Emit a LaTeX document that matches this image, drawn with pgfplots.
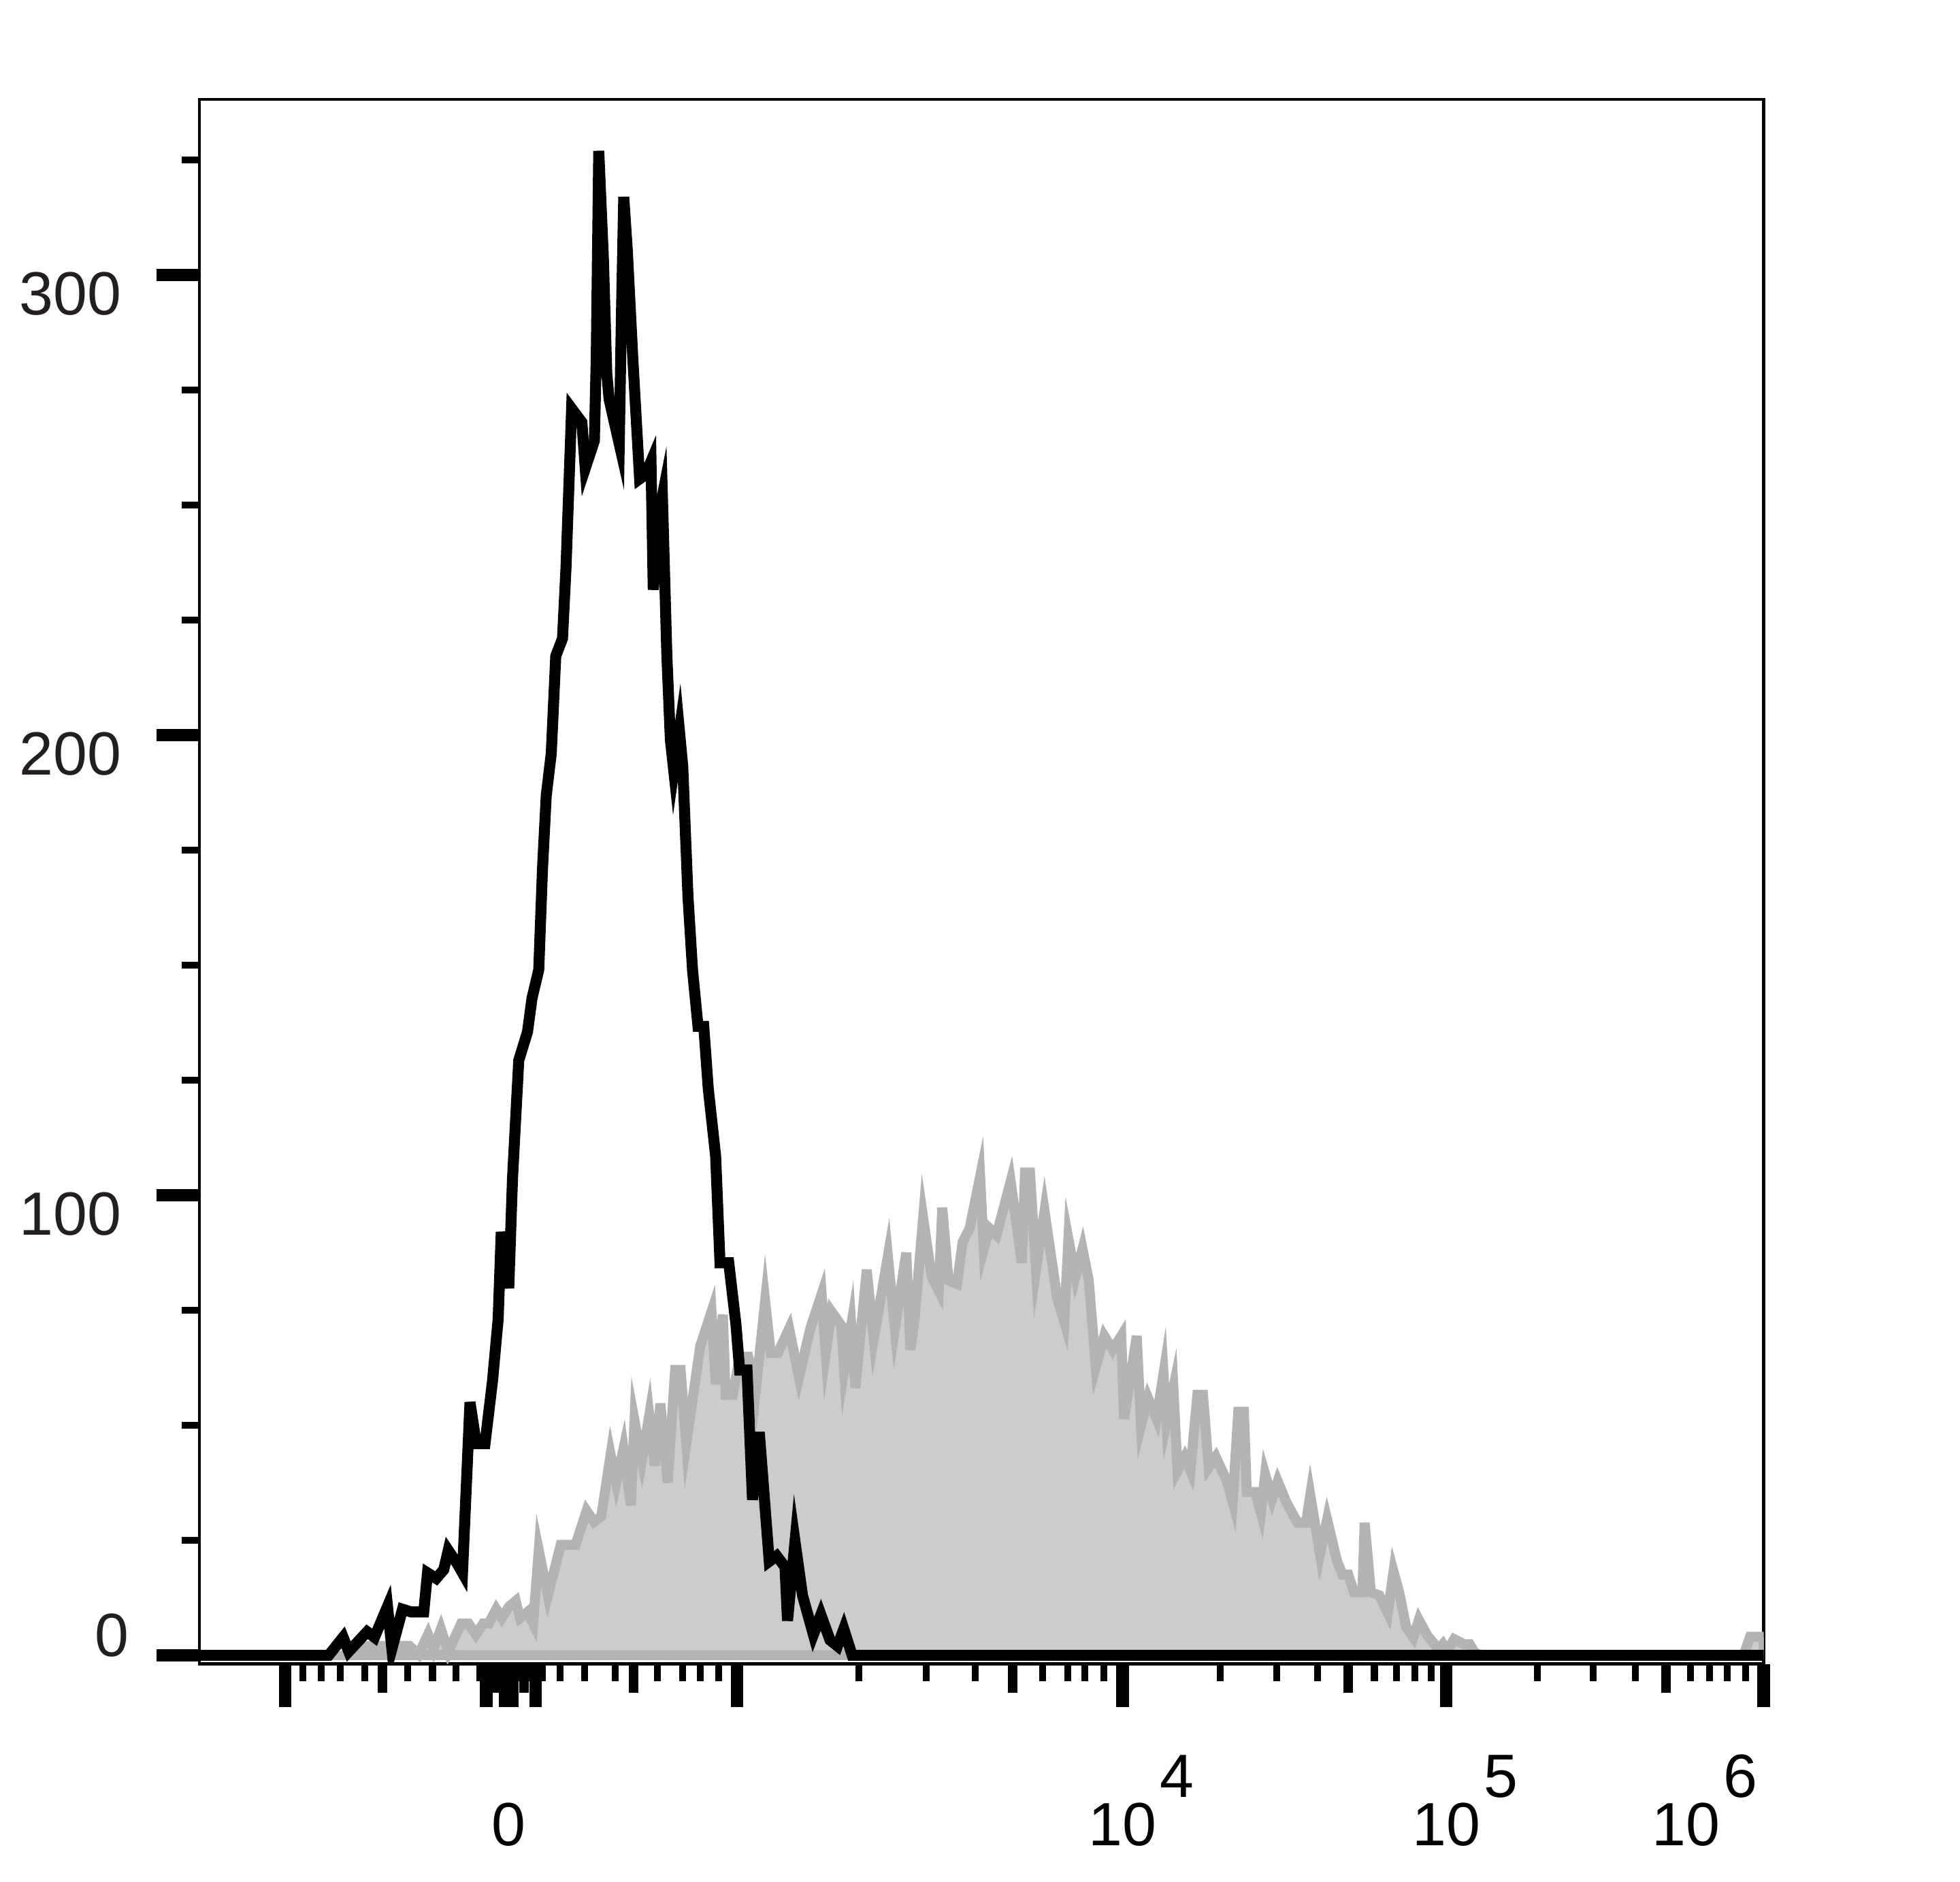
\documentclass[border=0pt]{standalone}
\usepackage{fontspec}
\setmainfont{Liberation Sans}
\usepackage{pgfplots}
\pgfplotsset{compat=1.18}
\definecolor{labelgray}{HTML}{231F20}
\definecolor{histfill}{HTML}{CCCCCC}
\definecolor{histline}{HTML}{B3B3B3}

\begin{document}
\begin{tikzpicture}
\begin{axis}[
  scale only axis,
  width=12.515cm, height=12.515cm,
  xmin=159.5, xmax=1411,
  ymin=-1.9, ymax=338.2,
  axis line style={line width=0.024cm},
  tick align=outside, tick pos=left,
  major tick length=0.345cm, minor tick length=0.14cm,
  major tick style={line width=0.1cm, black},
  minor tick style={line width=0.055cm, black},
  tick label style={font=\fontsize{13.9}{16}\selectfont},
  % logicle-like display scale, ticks at their channel positions
  xtick={228,389,404,407,410,428.5,589.5,898,1157,1411},
  xticklabels={,,,0,,,,
    {10\rlap{\hspace{0.03cm}\raisebox{0.39cm}{4}}},
    {10\rlap{\hspace{0.03cm}\raisebox{0.39cm}{5}}},
    {\llap{10\hspace{0.03cm}\raisebox{0.39cm}{6}\hspace{0.05cm}}}},
  xticklabel style={anchor=base, inner sep=0pt, yshift=-1.11cm},
  extra x ticks={306,398,419,507,810,1078.5,1333},
  extra x tick labels={},
  extra x tick style={major tick length=0.23cm, major tick style={line width=0.076cm}},
  minor xtick={242.5,257,272,292,326,346,365,384,386,...,434,448,467.5,492,526,546,560,575,687,741,780,834,854,868,883,976,1021.6,1054,1099.5,1117,1132,1145,1230,1274.5,1308.5,1352.6,1367.5,1382,1396.6},
  ytick={100,200,300},
  yticklabels={100,200,300},
  yticklabel style={anchor=north east, inner sep=0pt, text=labelgray, xshift=-0.27cm, yshift=0.03cm},
  extra y ticks={0},
  extra y tick labels={0},
  extra y tick style={yticklabel style={anchor=south east, xshift=0.06cm, yshift=-0.05cm}},
  minor ytick={25,50,75,125,150,175,225,250,275,325},
]
% stained sample (filled grey histogram)
\addplot[draw=histline, line width=0.08cm, fill=histfill] coordinates {
(274.5,0) (295,2) (327.6,2) (335,0.2) (342.4,4.5) (346.8,1.4) (352.7,5.7) (358.6,0.8)
(369,6.9) (374.8,6.9) (380.7,4.5) (386.6,6.9) (391,6.9) (397,10) (401.4,8.1) (407.3,10.6)
(412.6,11.8) (416,8.1) (422,9.4) (426.5,6.9) (431,22.8) (438.3,13) (448.6,24) (460.4,24)
(469.3,31.4) (475.2,29) (481,30.2) (488.5,43.6) (493,37.5) (498.8,44.9) (504.7,32.6)
(507.6,51) (513.5,42.4) (519.4,52.2) (523.9,41.2) (528.3,54.7) (534.2,37.5) (540.1,62)
(544.5,62) (549,46) (560.2,67.2) (569.2,74.7) (572.6,58.9) (578.3,74) (580.5,56.6)
(586.2,56.6) (591.8,64.9) (598.6,64.9) (604.2,56.6) (612.1,77) (616.6,65.7) (622.3,65.7)
(631.3,71) (639.2,60.4) (648.2,71) (657.3,78.5) (660.6,65.7) (665.2,74.7) (673,71.7)
(675.3,61.9) (681,71.7) (684.3,58.1) (693.4,83.8) (699,68.7) (710.3,86.8) (715.9,71)
(725,87.5) (728.4,66.4) (731.7,73.2) (738.5,95.1) (745.3,82.3) (751,79.2) (753.8,97.3)
(758.8,81.5) (765.6,80.7) (770.1,89.8) (775.7,92.8) (784.1,104.1) (787,88.3) (791.5,92.8)
(797.2,91.3) (808.5,103) (817.5,85.3) (820,104.9) (824,104.9) (828.8,83.8) (835.6,96.6)
(845.7,77.7) (851.4,72.5) (854.7,90.5) (860.4,82.3) (866,88.3) (871,81.5) (876.6,62.7)
(883.4,69.4) (890.2,66.4) (897,69.4) (899.2,51.4) (909.4,69.4) (912.8,49.9) (918.4,55.9)
(925.2,51.4) (930.8,61.2) (933.1,50.6) (938.7,58.1) (942,40.1) (947.7,43.1) (952.3,40.1)
(957.9,56.6) (962.4,56.6) (966.9,40.8) (972.6,43.1) (981.6,37.8) (986.1,33.3) (990.6,52.9)
(995.1,52.9) (997.4,35.5) (1004.2,35.5) (1008.7,31) (1012.1,39.3) (1017.7,34) (1022.2,37.8)
(1029,33.3) (1038,28.8) (1044.8,28.8) (1048.2,34.8) (1056,22) (1061.7,29.5) (1069.6,20.5)
(1074.1,17.5) (1078.6,17.5) (1083.2,13.7) (1089.9,13.7) (1091.7,28.8) (1096.7,13.7)
(1103.5,13) (1110.2,9.2) (1114.8,18.2) (1119.3,13.7) (1124.9,6.2) (1130.6,3.9) (1135.1,7.7)
(1141.8,4.3) (1150.9,1.3) (1154.3,2.4) (1157.6,0.9) (1163.3,3.5) (1171.2,2.4) (1175.7,2.4)
(1180,0.5) (1185,0) (1395,0) (1400,4) (1411,4)
} \closedcycle;
% unstained control (black line)
\addplot[black, line width=0.088cm] coordinates {
(159.5,0) (263,0) (274.5,3.9) (279,0.8) (293.7,5.1) (299.6,3.9) (310,10.6) (313.5,1.4)
(322,10) (329,9.4) (339,9.4) (342,17.9) (349,16.7) (355,18.6) (358.6,22.8) (366,19.8)
(370,17.9) (376,55) (381,46) (388,46) (394,59.6) (398.5,73) (401,92) (407,79.8)
(410,103.6) (415,129.3) (422,135.5) (425.6,142.8) (431,149) (434,171) (437,186.9)
(441,196) (444.6,217.2) (450,221) (452.8,236.4) (457.3,271) (465.5,268) (468.2,258)
(475.5,264) (477,282) (479,327) (482.7,303.7) (485.4,278.7) (487.3,273) (495.4,263.3)
(497.2,292.2) (499,317) (501.8,305.6) (506.3,281.6) (511.7,255.7) (516.3,256.6)
(520.8,259.5) (522.6,231.6) (526.3,247) (529.9,252) (533.5,217.2) (536.3,199)
(539,192.3) (543.5,201) (546.2,193.2) (550.4,164.8) (554,149) (558.4,136.7) (563,136.7)
(566.6,123.2) (572.5,108.5) (576,85.3) (583,85.3) (588.8,71.8) (591.7,62) (597.6,62)
(602,33.8) (607.4,48.5) (615.4,20.4) (621.3,21.6) (628,19.2) (630,7.5) (636,24.7)
(642,13) (650.7,4.5) (656.7,8.8) (664,3.3) (670,2.0) (675,5.7) (681.7,0) (1411,0)
};
\end{axis}
\pgfresetboundingbox
\path[use as bounding box] ([shift={(-1.595cm,-1.74cm)}]current axis.south west)
  rectangle ([shift={(1.57cm,0.795cm)}]current axis.north east);
\end{tikzpicture}
\end{document}
